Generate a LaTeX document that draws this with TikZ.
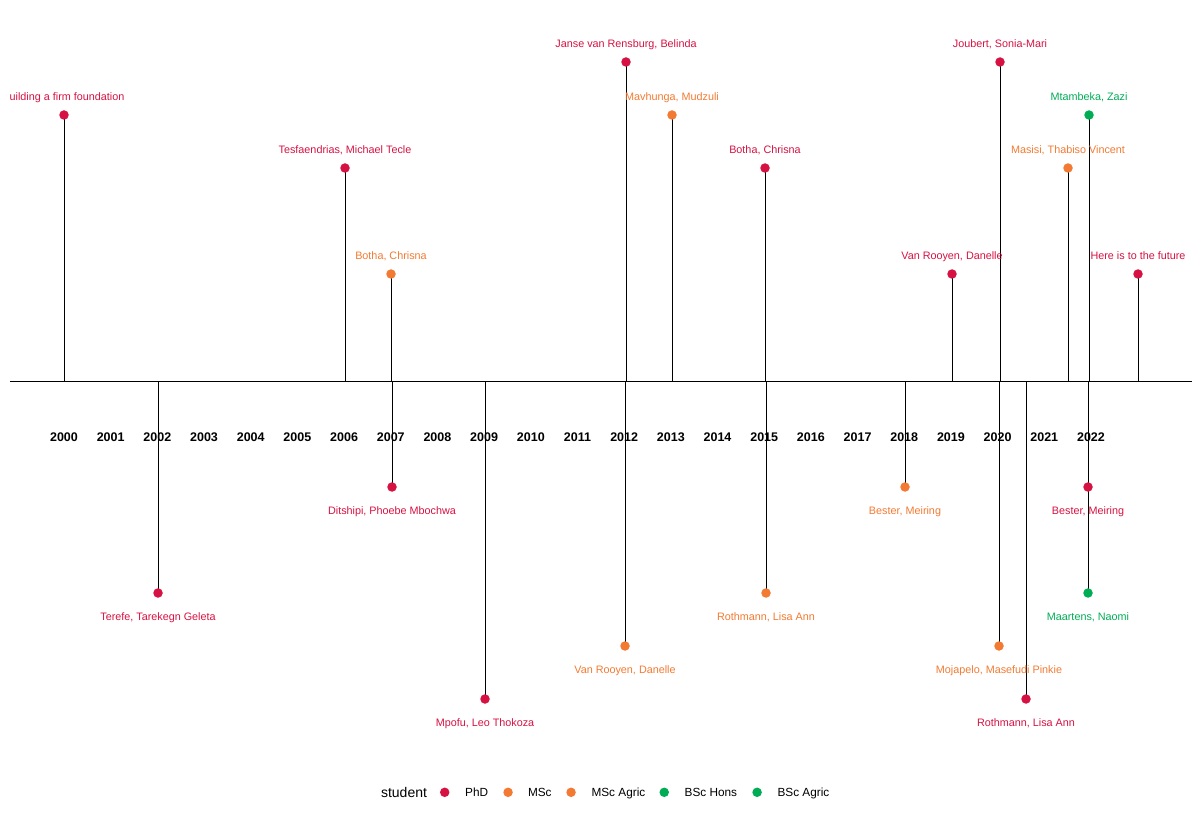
\documentclass[tikz,border=0pt]{standalone}
\usepackage{fontspec}
\setmainfont{Liberation Sans}
\usepackage{xcolor}
\usepackage{tikz}
\usetikzlibrary{positioning,backgrounds}

\definecolor{phdcol}{RGB}{214,18,66}
\definecolor{msccol}{RGB}{243,122,50}
\definecolor{bsccol}{RGB}{0,173,85}

\begin{document}
\begin{tikzpicture}[
  x=1pt, y=-1pt,
  dot/.style={circle, fill=#1, inner sep=0pt, outer sep=0pt, minimum size=9.5pt},
  lbl/.style={text=#1, font=\fontsize{10.8}{13}\selectfont, inner sep=0pt, text height=7.5pt, text depth=2pt},
  up/.style={above=8pt of #1},
  down/.style={below=15.5pt of #1},
  stem/.style={line width=0.9pt},
  year/.style={font=\bfseries\fontsize{12.5}{14}\selectfont, anchor=base, inner sep=0pt},
  legtxt/.style={font=\fontsize{11.8}{14}\selectfont, inner sep=0pt, text height=10pt, text depth=1pt}
]
\useasboundingbox (0,0) rectangle (1200,818);

% time axis
\coordinate (axL) at (10,381);
\coordinate (axR) at (1192,381);
\draw[stem] (axL) -- (axR);

\foreach \yr [count=\i from 0] in {2000,...,2022}
  \node[year] (y\yr) at ({64+46.68*\i},441) {\yr};

% above the axis
\node[dot=phdcol] (found) at (64,115) {};
\node[lbl=phdcol, up=found, xshift=3pt] (found-l) {uilding a firm foundation};

\node[dot=phdcol] (tesfa) at (345,168) {};
\node[lbl=phdcol, up=tesfa] (tesfa-l) {Tesfaendrias, Michael Tecle};

\node[dot=msccol] (botha1) at (391,274) {};
\node[lbl=msccol, up=botha1] (botha1-l) {Botha, Chrisna};

\node[dot=phdcol] (janse) at (626,62) {};
\node[lbl=phdcol, up=janse] (janse-l) {Janse van Rensburg, Belinda};

\node[dot=msccol] (mavhunga) at (672,115) {};
\node[lbl=msccol, up=mavhunga] (mavhunga-l) {Mavhunga, Mudzuli};

\node[dot=phdcol] (botha2) at (765,168) {};
\node[lbl=phdcol, up=botha2] (botha2-l) {Botha, Chrisna};

\node[dot=phdcol] (vrooyen2) at (952,274) {};
\node[lbl=phdcol, up=vrooyen2] (vrooyen2-l) {Van Rooyen, Danelle};

\node[dot=phdcol] (joubert) at (1000,62) {};
\node[lbl=phdcol, up=joubert] (joubert-l) {Joubert, Sonia-Mari};

\node[dot=msccol] (masisi) at (1068,168) {};
\node[lbl=msccol, up=masisi] (masisi-l) {Masisi, Thabiso Vincent};

\node[dot=bsccol] (mtambeka) at (1089,115) {};
\node[lbl=bsccol, up=mtambeka] (mtambeka-l) {Mtambeka, Zazi};

\node[dot=phdcol] (future) at (1138,274) {};
\node[lbl=phdcol, up=future] (future-l) {Here is to the future};

% below the axis
\node[dot=phdcol] (terefe) at (158,593) {};
\node[lbl=phdcol, down=terefe] (terefe-l) {Terefe, Tarekegn Geleta};

\node[dot=phdcol] (ditshipi) at (392,487) {};
\node[lbl=phdcol, down=ditshipi] (ditshipi-l) {Ditshipi, Phoebe Mbochwa};

\node[dot=phdcol] (mpofu) at (485,699) {};
\node[lbl=phdcol, down=mpofu] (mpofu-l) {Mpofu, Leo Thokoza};

\node[dot=msccol] (vrooyen1) at (625,646) {};
\node[lbl=msccol, down=vrooyen1] (vrooyen1-l) {Van Rooyen, Danelle};

\node[dot=msccol] (rothmann1) at (766,593) {};
\node[lbl=msccol, down=rothmann1] (rothmann1-l) {Rothmann, Lisa Ann};

\node[dot=msccol] (bester1) at (905,487) {};
\node[lbl=msccol, down=bester1] (bester1-l) {Bester, Meiring};

\node[dot=msccol] (mojapelo) at (999,646) {};
\node[lbl=msccol, down=mojapelo] (mojapelo-l) {Mojapelo, Masefudi Pinkie};

\node[dot=phdcol] (rothmann2) at (1026,699) {};
\node[lbl=phdcol, down=rothmann2] (rothmann2-l) {Rothmann, Lisa Ann};

\node[dot=phdcol] (bester2) at (1088,487) {};
\node[lbl=phdcol, down=bester2] (bester2-l) {Bester, Meiring};

\node[dot=bsccol] (maartens) at (1088,593) {};
\node[lbl=bsccol, down=maartens] (maartens-l) {Maartens, Naomi};

% stems behind the dots
\begin{scope}[on background layer]
\foreach \ev in {found,tesfa,botha1,janse,mavhunga,botha2,vrooyen2,joubert,masisi,mtambeka,future,
                 terefe,ditshipi,mpofu,vrooyen1,rothmann1,bester1,mojapelo,rothmann2,bester2,maartens}
  \draw[stem] (\ev.center) -- (\ev.center |- axL);
\end{scope}

% legend
\node[legtxt, font=\fontsize{14}{16}\selectfont, text height=12pt, text depth=2pt] (legT) at (404,792.3) {student};
\node[dot=phdcol, right=12.8pt of legT] (lg1) {};
\node[legtxt, right=15.5pt of lg1] (lg1-t) {PhD};
\node[dot=msccol, right=15pt of lg1-t] (lg2) {};
\node[legtxt, right=15pt of lg2] (lg2-t) {MSc};
\node[dot=msccol, right=14.5pt of lg2-t] (lg3) {};
\node[legtxt, right=15.5pt of lg3] (lg3-t) {MSc Agric};
\node[dot=bsccol, right=14pt of lg3-t] (lg4) {};
\node[legtxt, right=15.5pt of lg4] (lg4-t) {BSc Hons};
\node[dot=bsccol, right=15pt of lg4-t] (lg5) {};
\node[legtxt, right=15.5pt of lg5] (lg5-t) {BSc Agric};
\end{tikzpicture}
\end{document}
